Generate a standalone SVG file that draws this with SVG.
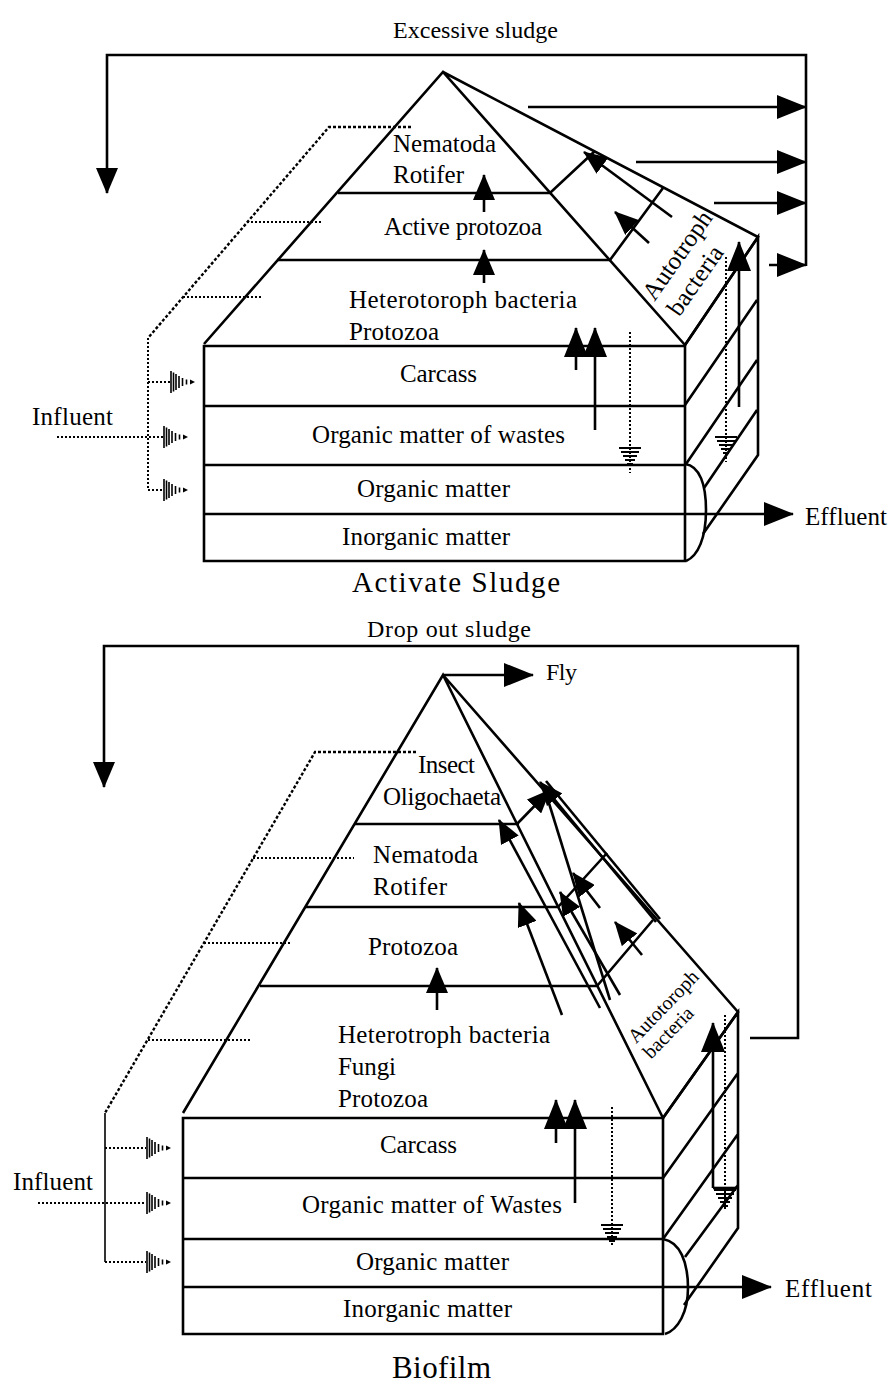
<svg xmlns="http://www.w3.org/2000/svg" width="889" height="1393" viewBox="0 0 889 1393">
<defs>
<style>
.ln{fill:none;stroke:#000;stroke-width:2.6}
.th{fill:none;stroke:#000;stroke-width:1.6}
.dt{fill:none;stroke:#000;stroke-width:2;stroke-dasharray:2 2}
.dd{fill:none;stroke:#000;stroke-width:2.4;stroke-dasharray:3 2}
.t{font-family:"Liberation Serif","Times New Roman",serif;font-size:25px;fill:#000}
.ar{marker-end:url(#ah)}
.am{marker-end:url(#am)}
.as{marker-end:url(#as)}
</style>
<marker id="ah" viewBox="0 0 30 24" refX="29" refY="12" markerWidth="30" markerHeight="24" markerUnits="userSpaceOnUse" orient="auto"><path d="M0,0L30,12L0,24z"/></marker>
<marker id="am" viewBox="0 0 26 22" refX="25" refY="11" markerWidth="26" markerHeight="22" markerUnits="userSpaceOnUse" orient="auto"><path d="M0,0L26,11L0,22z"/></marker>
<marker id="as" viewBox="0 0 24 20" refX="23" refY="10" markerWidth="24" markerHeight="20" markerUnits="userSpaceOnUse" orient="auto"><path d="M0,0L24,10L0,20z"/></marker>
<g id="inlet">
<path class="th" d="M0,-11V11M2.5,-9.5V9.5M5,-8V8M8,-6V6M11.5,-4V4M15.5,-2.5V2.5"/>
<path d="M19,-2.5L24,0L19,2.5z"/>
</g>
<g id="gnd">
<path fill="none" stroke="#000" stroke-width="1.8" d="M-11,0H11M-9,4H9M-7,8H7M-5,12H5M-3,16H3"/>
</g>
</defs>
<rect width="889" height="1393" fill="#fff"/>

<!-- ============ ACTIVATED SLUDGE ============ -->
<g id="as-structure">
<path class="ln" d="M204,344L443,72L685,345M443,72L758,237L685,345"/>
<path class="ln" d="M338,193H550L595,151M277,260H610L663,188"/>
<path class="ln" d="M204,346H685V561H204ZM204,406H685M204,465H685M204,514H685"/>
<path class="ln" d="M685,345L758,237V455L703,534M685,405L757,300M686,464L757,360M704,488L757,410"/>
<path class="ln" d="M685,464C700,466 706,485 706,510C706,538 698,556 686,561"/>
</g>
<g id="as-title"><text class="t" x="352" y="592" style="font-size:29px" textLength="208" lengthAdjust="spacing">Activate Sludge</text></g>
<g id="as-nematoda"><text class="t" x="393" y="152" textLength="103" lengthAdjust="spacing">Nematoda</text><text class="t" x="393" y="183" textLength="71" lengthAdjust="spacing">Rotifer</text></g>
<g id="as-active"><text class="t" x="384" y="235" textLength="158" lengthAdjust="spacing">Active protozoa</text></g>
<g id="as-hetero"><text class="t" x="349" y="308" textLength="228" lengthAdjust="spacing">Heterotoroph bacteria</text><text class="t" x="349" y="340" textLength="90" lengthAdjust="spacing">Protozoa</text></g>
<g id="as-carcass"><text class="t" x="400" y="382" textLength="77" lengthAdjust="spacing">Carcass</text></g>
<g id="as-wastes"><text class="t" x="312" y="443" textLength="253" lengthAdjust="spacing">Organic matter of wastes</text></g>
<g id="as-organic"><text class="t" x="357" y="497" textLength="153" lengthAdjust="spacing">Organic matter</text></g>
<g id="as-inorganic"><text class="t" x="342" y="545" textLength="168" lengthAdjust="spacing">Inorganic matter</text></g>
<g id="as-autotroph">
<text class="t" x="684" y="260" text-anchor="middle" transform="rotate(-55 684 260)">Autotroph</text>
<text class="t" x="702" y="285" text-anchor="middle" transform="rotate(-55 702 285)">bacteria</text>
</g>
<g id="as-excess"><text class="t" x="393" y="38" style="font-size:24px" textLength="165" lengthAdjust="spacing">Excessive sludge</text></g>
<g id="as-influent"><text class="t" x="32" y="425" textLength="81" lengthAdjust="spacing">Influent</text></g>
<g id="as-effluent"><text class="t" x="805" y="525" textLength="82" lengthAdjust="spacing">Effluent</text></g>

<g id="as-connectors">
<path class="ln am" d="M806,266V55H107V193"/>
<path class="ln ar" d="M528,107H806"/>
<path class="ln ar" d="M636,162H806"/>
<path class="ln ar" d="M714,203H806"/>
<path class="ln ar" d="M769,265H806"/>
<path class="ln am" d="M484,212V175"/>
<path class="ln am" d="M484,283V250"/>
<path class="ln ar" d="M576,370V328"/>
<path class="ln ar" d="M595,430V328"/>
<path class="ln ar" d="M739,407V242"/>
<path class="ln as" d="M672,217L584,152"/>
<path class="ln as" d="M649,243L615,212"/>
<path class="ln ar" d="M685,514H793"/>
<path class="dt" d="M630,332V473M726,257V462"/>
<use href="#gnd" x="630" y="448"/>
<use href="#gnd" x="726" y="437"/>
<path class="dd" d="M411,127H329L148,338"/>
<path class="dt" d="M148,338V490M148,382H170M57,437H163M148,490H163M247,222H322M183,297H263"/>
<use href="#inlet" x="171" y="382"/>
<use href="#inlet" x="164" y="437"/>
<use href="#inlet" x="164" y="490"/>
</g>

<!-- ============ BIOFILM ============ -->
<g id="bf-structure">
<path class="ln" d="M183,1113L443,675L663,1118M443,675L738,1012L663,1118"/>
<path class="ln" d="M355,824H519M306,907H558M260,986H597"/>
<path class="ln" d="M183,1118H663V1334H183ZM183,1178H663M183,1239H663M183,1287H663"/>
<path class="ln" d="M663,1118L738,1012V1228L684,1305M663,1178L738,1073M663,1239L738,1134M685,1257L738,1185"/>
<path class="ln" d="M663,1239C680,1242 688,1262 688,1288C688,1312 678,1330 665,1334"/>
<path class="ln" d="M558,907L607,853M597,986L653,920"/>
</g>
<g id="bf-title"><text class="t" x="392" y="1378" style="font-size:31px" textLength="99" lengthAdjust="spacing">Biofilm</text></g>
<g id="bf-insect"><text class="t" x="418" y="773" textLength="57" lengthAdjust="spacing">Insect</text><text class="t" x="383" y="805" textLength="118" lengthAdjust="spacing">Oligochaeta</text></g>
<g id="bf-nematoda"><text class="t" x="373" y="863" textLength="105" lengthAdjust="spacing">Nematoda</text><text class="t" x="373" y="895" textLength="74" lengthAdjust="spacing">Rotifer</text></g>
<g id="bf-protozoa"><text class="t" x="368" y="955" textLength="90" lengthAdjust="spacing">Protozoa</text></g>
<g id="bf-hetero"><text class="t" x="338" y="1043" textLength="212" lengthAdjust="spacing">Heterotroph bacteria</text><text class="t" x="338" y="1075" textLength="58" lengthAdjust="spacing">Fungi</text><text class="t" x="338" y="1107" textLength="90" lengthAdjust="spacing">Protozoa</text></g>
<g id="bf-carcass"><text class="t" x="380" y="1153" textLength="77" lengthAdjust="spacing">Carcass</text></g>
<g id="bf-wastes"><text class="t" x="302" y="1213" textLength="260" lengthAdjust="spacing">Organic matter of Wastes</text></g>
<g id="bf-organic"><text class="t" x="356" y="1270" textLength="153" lengthAdjust="spacing">Organic matter</text></g>
<g id="bf-inorganic"><text class="t" x="343" y="1317" textLength="169" lengthAdjust="spacing">Inorganic matter</text></g>
<g id="bf-autotroph">
<text class="t" x="668" y="1011" style="font-size:20px" text-anchor="middle" transform="rotate(-46 668 1011)">Autotoroph</text>
<text class="t" x="673" y="1037" style="font-size:20px" text-anchor="middle" transform="rotate(-46 673 1037)">bacteria</text>
</g>
<g id="bf-drop"><text class="t" x="367" y="637" style="font-size:24px" textLength="164" lengthAdjust="spacing">Drop out sludge</text></g>
<g id="bf-fly"><text class="t" x="546" y="680" style="font-size:24px" textLength="31" lengthAdjust="spacing">Fly</text></g>
<g id="bf-influent"><text class="t" x="13" y="1190" textLength="80" lengthAdjust="spacing">Influent</text></g>
<g id="bf-effluent"><text class="t" x="785" y="1297" textLength="87" lengthAdjust="spacing">Effluent</text></g>

<g id="bf-connectors">
<path class="ln am" d="M750,1038H798V646H104V787"/>
<path class="ln ar" d="M443,675H533"/>
<path class="ln am" d="M437,1010V968"/>
<path class="ln ar" d="M556,1143V1100"/>
<path class="ln ar" d="M575,1203V1100"/>
<path class="ln ar" d="M713,1188V1023"/>
<path class="ln" d="M713,1188H738"/>
<path class="ln ar" d="M663,1287H771"/>
<path class="ln as" d="M517,824L550,790"/>
<path class="ln as" d="M656,922L540,782"/>
<path class="ln" d="M660,919L546,781"/>
<path class="ln as" d="M600,908L573,873"/>
<path class="ln as" d="M620,995L560,892"/>
<path class="ln as" d="M642,955L615,922"/>
<path class="ln as" d="M600,1008L499,820"/>
<path class="ln as" d="M562,1015L519,903"/>
<path class="ln" d="M548,800L610,1000"/>
<path class="dt" d="M612,1107V1247M725,1015V1210"/>
<use href="#gnd" x="612" y="1225"/>
<use href="#gnd" x="725" y="1190"/>
<path class="dd" d="M416,752H315L105,1113"/>
<path class="th" d="M105,1113V1262"/>
<path class="dt" d="M105,1148H146M38,1203H146M105,1262H146M253,858H354M204,943H292M148,1040H252"/>
<use href="#inlet" x="147" y="1148"/>
<use href="#inlet" x="147" y="1203"/>
<use href="#inlet" x="147" y="1262"/>
</g>
</svg>
